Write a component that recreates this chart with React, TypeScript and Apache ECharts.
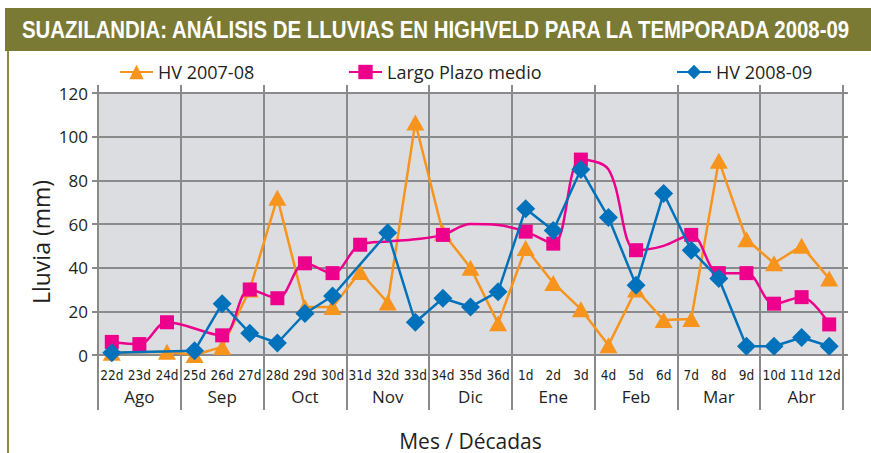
import React, { useEffect, useRef } from "react";
import * as echarts from "echarts";

const TITLE = "SUAZILANDIA: ANÁLISIS DE LLUVIAS EN HIGHVELD PARA LA TEMPORADA 2008-09";
const dekads = [
  "22d", "23d", "24d", "25d", "26d", "27d", "28d", "29d", "30d",
  "31d", "32d", "33d", "34d", "35d", "36d", "1d", "2d", "3d",
  "4d", "5d", "6d", "7d", "8d", "9d", "10d", "11d", "12d",
];
const months = ["Ago", "Sep", "Oct", "Nov", "Dic", "Ene", "Feb", "Mar", "Abr"];
const yTicks = [0, 20, 40, 60, 80, 100, 120];

const hv0708: (number | null)[] = [
  1, null, 1.5, 0, 3.7, 30, 72, 22, 22,
  38, 24, 106.5, 56, 40, 14.5, 49, 33, 21,
  4.5, 30, 16, 16.5, 89, 53, 42, 50, 35,
];
const largoPlazo: (number | null)[] = [
  6, 5, 15, null, 9, 30, 26, 42, 37.5,
  50.5, 52, 53, 55, 60, 59.5, 56.5, 51, 89.5,
  85, 48, 50, 55, 37.5, 37.5, 23.5, 26.5, 14,
];
// points of the long-term curve drawn without a marker
const largoPlazoNoMarker = [10, 11, 13, 14, 18, 20];
const hv0809: (number | null)[] = [
  1, null, null, 2, 23.5, 10, 5.5, 19, 27,
  null, 56, 15, 26, 22, 29, 67, 57, 85,
  63, 32, 74, 48, 35, 4, 4, 8, 4,
];

const ORANGE = "#f7941d";
const MAGENTA = "#ec008c";
const BLUE = "#0072bc";
const GRID = "#8a8a8a";
const TXT = "#231f20";
const FONT = "'Open Sans', 'Noto Sans', sans-serif";

function measure(text: string, font: string): number {
  const c = document.createElement("canvas");
  const ctx = c.getContext("2d");
  if (!ctx) return 900;
  ctx.font = font;
  return ctx.measureText(text).width;
}

export default function App() {
  const ref = useRef<HTMLDivElement>(null);
  useEffect(() => {
    if (!ref.current) return;
    const chart = echarts.init(ref.current, null, { renderer: "svg" });
    const titleW = measure(TITLE, "bold 24px 'Liberation Sans'");
    const titleScale = 830 / titleW;

    const lpData = largoPlazo.map((v, i) =>
      largoPlazoNoMarker.includes(i) ? { value: v, symbol: "none" } : v
    );

    const legendBase = {
      top: 63,
      itemHeight: 18,
      padding: 0,
      textStyle: { fontSize: 18, color: TXT, fontFamily: FONT },
      selectedMode: false,
    };

    chart.setOption({
      animation: false,
      backgroundColor: "#ffffff",
      textStyle: { fontFamily: FONT },
      grid: {
        left: 98,
        right: 28,
        top: 93,
        bottom: 98,
        show: true,
        backgroundColor: "#dcdde0",
        borderWidth: 0,
        containLabel: false,
        outerBoundsMode: "none",
      },
      legend: [
        { ...legendBase, left: 119, itemWidth: 33, data: ["HV 2007-08"] },
        { ...legendBase, left: 348, itemWidth: 33, data: ["Largo Plazo medio"] },
        { ...legendBase, left: 676, itemWidth: 34, data: ["HV 2008-09"] },
      ],
      xAxis: [
        {
          type: "category",
          data: dekads,
          boundaryGap: true,
          axisLine: { show: false },
          axisTick: { show: false },
          splitLine: { show: false },
          axisLabel: {
            interval: 0,
            margin: 13,
            fontSize: 13.5,
            color: TXT,
            fontFamily: "'Liberation Sans Narrow', 'DejaVu Sans Condensed', 'Liberation Sans', sans-serif",
          },
        },
        {
          type: "category",
          data: months,
          boundaryGap: true,
          position: "bottom",
          axisLine: { show: true, lineStyle: { color: GRID, width: 2 } },
          axisTick: { show: true, length: 55, interval: 0, lineStyle: { color: GRID, width: 2 } },
          splitLine: { show: true, interval: 0, lineStyle: { color: GRID, width: 2 } },
          axisLabel: { interval: 0, margin: 33, fontSize: 17, color: TXT, fontFamily: FONT },
          name: "Mes / Décadas",
          nameLocation: "middle",
          nameGap: 75,
          nameTextStyle: { fontSize: 21, color: TXT, fontFamily: FONT },
        },
        {
          type: "category",
          data: months,
          boundaryGap: true,
          position: "top",
          axisLine: { show: false },
          axisTick: { show: true, length: 8, interval: 0, lineStyle: { color: GRID, width: 2 } },
          splitLine: { show: false },
          axisLabel: { show: false },
        },
      ],
      yAxis: [
        {
          type: "value",
          min: 0,
          max: 120,
          interval: 20,
          axisLine: { show: true, lineStyle: { color: GRID, width: 2 } },
          axisTick: { show: true, length: 6, lineStyle: { color: GRID, width: 2 } },
          splitLine: { show: true, lineStyle: { color: GRID, width: 2 } },
          axisLabel: {
            margin: 10,
            fontSize: 17,
            color: TXT,
            fontFamily: FONT,
            formatter: (v: number) => (yTicks.includes(v) ? String(v) : ""),
          },
        },
        {
          type: "value",
          position: "right",
          min: 0,
          max: 120,
          interval: 20,
          axisLine: { show: false },
          axisTick: { show: true, length: 5, lineStyle: { color: GRID, width: 2 } },
          splitLine: { show: false },
          axisLabel: { show: false },
        },
      ],
      graphic: [
        { type: "rect", shape: { x: 5, y: 8, width: 866, height: 43 }, style: { fill: "#7b7a35" } },
        { type: "rect", shape: { x: 7, y: 51, width: 2, height: 402 }, style: { fill: "#8b8a3f" } },
        {
          type: "text",
          x: 22,
          y: 30,
          scaleX: titleScale,
          style: {
            text: TITLE,
            fill: "#ffffff",
            fontSize: 24,
            fontWeight: "bold",
            fontFamily: "'Liberation Sans'",
            textAlign: "left",
            textVerticalAlign: "middle",
          },
        },
        {
          type: "text",
          x: 41,
          y: 242,
          rotation: Math.PI / 2,
          style: {
            text: "Lluvia (mm)",
            fill: TXT,
            fontSize: 23,
            fontFamily: FONT,
            textAlign: "center",
            textVerticalAlign: "middle",
          },
        },
      ],
      series: [
        {
          name: "HV 2007-08",
          type: "line",
          xAxisIndex: 0,
          yAxisIndex: 0,
          data: hv0708,
          connectNulls: true,
          symbol: "triangle",
          symbolSize: [18, 16],
          itemStyle: { color: ORANGE },
          lineStyle: { color: ORANGE, width: 2.5 },
          z: 2,
        },
        {
          name: "Largo Plazo medio",
          type: "line",
          xAxisIndex: 0,
          yAxisIndex: 0,
          data: lpData,
          connectNulls: true,
          smooth: 0.35,
          symbol: "rect",
          symbolSize: 14,
          itemStyle: { color: MAGENTA },
          lineStyle: { color: MAGENTA, width: 2.5 },
          z: 3,
        },
        {
          name: "HV 2008-09",
          type: "line",
          xAxisIndex: 0,
          yAxisIndex: 0,
          data: hv0809,
          connectNulls: true,
          symbol: "diamond",
          symbolSize: 19,
          itemStyle: { color: BLUE },
          lineStyle: { color: BLUE, width: 2.5 },
          z: 4,
        },
      ],
    });
    return () => chart.dispose();
  }, []);
  return (
    <div
      ref={ref}
      style={{ position: "fixed", left: 0, top: 0, width: 871, height: 453 }}
    />
  );
}
